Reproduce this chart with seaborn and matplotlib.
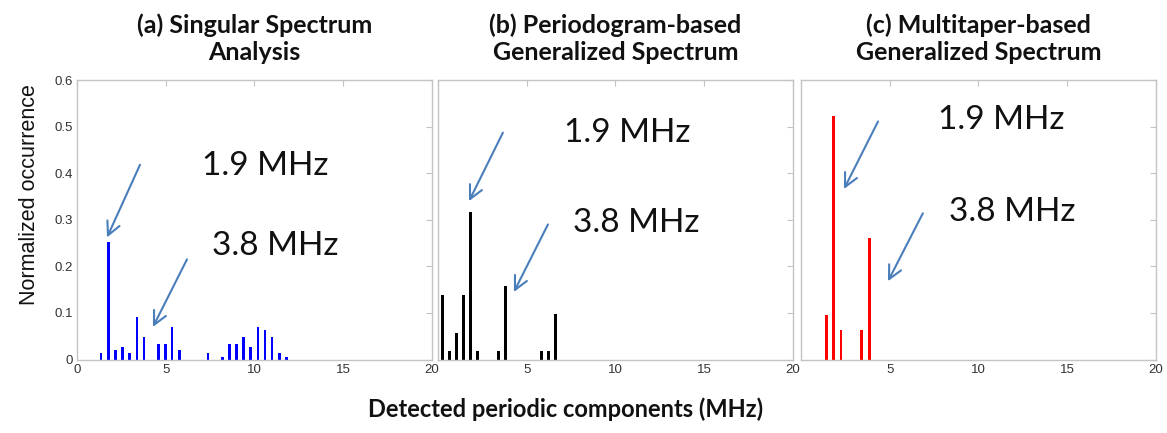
import pandas as pd
import seaborn as sns
import matplotlib.pyplot as plt

# detected periodic components (MHz) and normalized occurrence
ssa_freq = [1.36, 1.77, 2.17, 2.58, 2.96, 3.38, 3.77, 4.58, 4.98, 5.36, 5.77,
            7.38, 8.2, 8.58, 8.98, 9.38, 9.79, 10.2, 10.6, 11.0, 11.4, 11.8]
ssa_occ = [0.013, 0.253, 0.020, 0.027, 0.013, 0.091, 0.048, 0.034, 0.034, 0.070, 0.020,
           0.013, 0.006, 0.034, 0.034, 0.049, 0.027, 0.070, 0.063, 0.049, 0.013, 0.006]

pgram_freq = [0.24, 0.64, 1.03, 1.42, 1.82, 2.23, 3.43, 3.82, 5.84, 6.22, 6.61]
pgram_occ = [0.138, 0.018, 0.058, 0.138, 0.317, 0.018, 0.018, 0.158, 0.018, 0.018, 0.098]

mtaper_freq = [1.44, 1.84, 2.25, 3.43, 3.84]
mtaper_occ = [0.096, 0.522, 0.064, 0.064, 0.261]

titles = ["(a) Singular Spectrum\nAnalysis",
          "(b) Periodogram-based\nGeneralized Spectrum",
          "(c) Multitaper-based\nGeneralized Spectrum"]
colors = ["#0000ff", "#000000", "#ff0000"]
peak_labels = ["1.9 MHz", "3.8 MHz"]

x_ticks = [0, 5, 10, 15, 20]
y_ticks = [0, 0.1, 0.2, 0.3, 0.4, 0.5, 0.6]
y_tick_labels = ["0", "0.1", "0.2", "0.3", "0.4", "0.5", "0.6"]

# annotation placement per panel: (label1 xy, label2 xy, arrow1 (from, to), arrow2 (from, to))
notes = [
    ((10.6, 0.415), (11.2, 0.243), ((3.55, 0.418), (1.69, 0.262)), ((6.2, 0.215), (4.28, 0.070))),
    ((10.65, 0.487), (11.2, 0.292), ((3.66, 0.487), (1.75, 0.340)), ((6.2, 0.290), (4.28, 0.145))),
    ((11.3, 0.515), (11.9, 0.316), ((4.34, 0.511), (2.42, 0.366)), ((6.87, 0.314), (4.9, 0.168))),
]

sns.set_theme(style="white")
plt.rcParams['font.family'] = ['Liberation Sans', 'DejaVu Sans']

fig = plt.figure(figsize=(11.67, 4.33), dpi=100)
lefts = [0.066, 0.3753, 0.6864]
data = [(ssa_freq, ssa_occ), (pgram_freq, pgram_occ), (mtaper_freq, mtaper_occ)]

frame_col = "#c4c4c4"
arrow_col = "#4a7ebb"

for i, (freq, occ) in enumerate(data):
    ax = fig.add_axes([lefts[i], 0.1697, 0.304, 0.6455])
    df = pd.DataFrame({"freq": freq, "occ": occ})
    sns.barplot(data=df, x="freq", y="occ", native_scale=True, color=colors[i],
                saturation=1, width=0.4, errorbar=None, ax=ax, linewidth=0)
    ax.set_xlim(0, 20)
    ax.set_ylim(0, 0.6)
    ax.set_xticks(x_ticks)
    xlabels = [str(t) for t in x_ticks]
    if i > 0:
        # the "0" sits under the previous panel's "20"
        xlabels[0] = ""
    ax.set_xticklabels(xlabels)
    ax.set_yticks(y_ticks)
    if i == 0:
        ax.set_yticklabels(y_tick_labels)
    else:
        ax.set_yticklabels([])
    ax.set_xlabel("")
    ax.set_ylabel("")
    for s in ax.spines.values():
        s.set_color(frame_col)
        s.set_linewidth(1)
    ax.tick_params(direction='in', top=True, right=True, length=4, width=0.8,
                   color=frame_col, labelsize=9.5, labelcolor="#333333", pad=3)

    # baseline alignment of a two-line text follows the last line here
    ax.text(0.5, 1.0716, titles[i], transform=ax.transAxes, ha='center', va='baseline',
            fontsize=18, fontweight='bold', family=['Lato', 'DejaVu Sans'],
            linespacing=1.2, color="#111111")

    lab1, lab2, arr1, arr2 = notes[i]
    for lab, txt in zip([lab1, lab2], peak_labels):
        ax.text(lab[0], lab[1], txt, ha='center', va='center', fontsize=24,
                family=['Lato', 'DejaVu Sans'], color="#111111")
    for (start, tip) in [arr1, arr2]:
        ax.annotate("", xy=tip, xytext=start,
                    arrowprops=dict(arrowstyle='->', color=arrow_col, lw=1.5,
                                    mutation_scale=24, shrinkA=0, shrinkB=0))

fig.text(0.0249, 0.5497, "Normalized occurrence", rotation=90, ha='center', va='center',
         fontsize=15.5, color="#111111")
fig.text(0.485, 0.056, "Detected periodic components (MHz)", ha='center', va='center',
         fontsize=17, fontweight='bold', family=['Lato', 'DejaVu Sans'], color="#111111")

fig.savefig("out.png", dpi=100)
